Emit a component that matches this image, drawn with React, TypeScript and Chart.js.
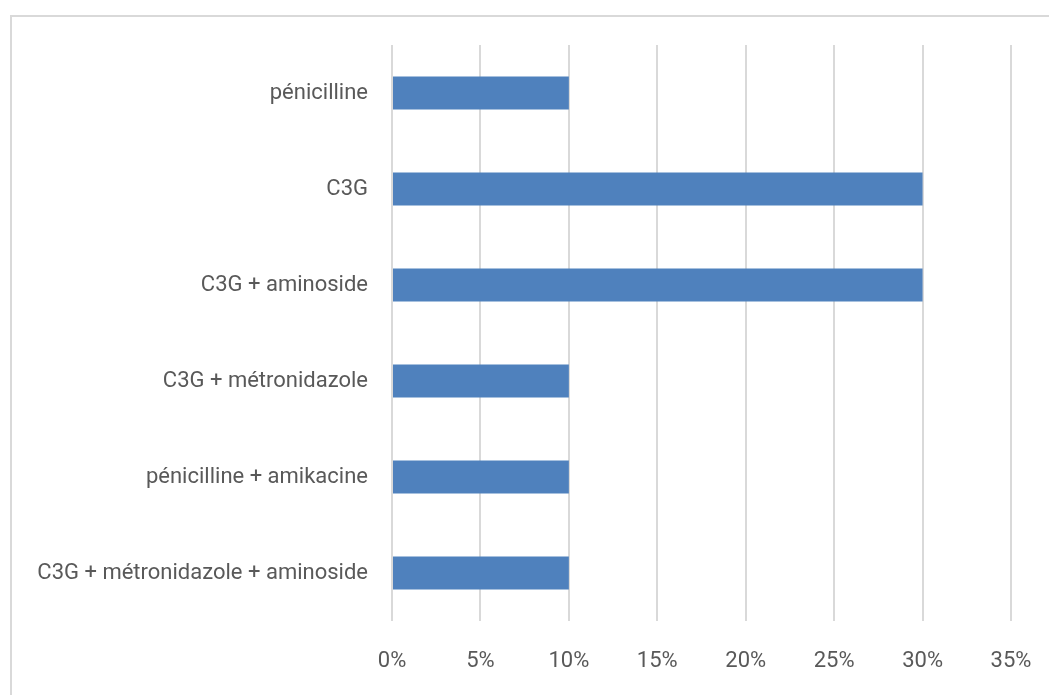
import React, { useEffect, useRef } from "react";
import { Chart, registerables } from "chart.js";

Chart.register(...registerables);

const categories = [
  "pénicilline",
  "C3G",
  "C3G + aminoside",
  "C3G + métronidazole",
  "pénicilline + amikacine",
  "C3G + métronidazole + aminoside",
];
const values = [10, 30, 30, 10, 10, 10];
const xTicks = [0, 5, 10, 15, 20, 25, 30, 35];

export default function App() {
  const ref = useRef<HTMLCanvasElement | null>(null);
  useEffect(() => {
    if (!ref.current) return;
    const font = { family: "Roboto, 'Liberation Sans', Arial, sans-serif", size: 22 };
    const chart = new Chart(ref.current, {
      type: "bar",
      data: {
        labels: categories,
        datasets: [
          {
            data: values,
            backgroundColor: "#4f81bd",
            borderWidth: 0,
            categoryPercentage: 1,
            barPercentage: 0.345,
          },
        ],
      },
      options: {
        indexAxis: "y",
        animation: false,
        responsive: false,
        maintainAspectRatio: false,
        layout: { padding: { top: 45, right: 38, left: 0, bottom: 0 } },
        plugins: { legend: { display: false }, tooltip: { enabled: false } },
        scales: {
          x: {
            min: 0,
            max: 35,
            afterBuildTicks: (s: any) => {
              s.ticks = xTicks.map((v) => ({ value: v }));
            },
            afterFit: (s: any) => {
              s.height = 74;
              s.paddingLeft = 0;
              s.paddingRight = 0;
            },
            ticks: {
              callback: (v: any) => v + "%",
              color: "#595959",
              font,
              padding: 27,
            },
            grid: { color: "#d9d9d9", lineWidth: 2, drawTicks: false },
            border: { display: false },
          },
          y: {
            afterFit: (s: any) => {
              s.width = 392;
            },
            ticks: { color: "#595959", font, padding: 24 },
            grid: { display: false, drawTicks: false },
            border: { display: false },
          },
        },
      },
    });
    return () => chart.destroy();
  }, []);
  return (
    <div style={{ position: "fixed", left: 0, top: 0, width: 1049, height: 695, overflow: "hidden", background: "#fff" }}>
      <div
        style={{
          position: "absolute",
          left: 10,
          top: 15,
          width: 1200,
          height: 900,
          border: "2px solid #d9d9d9",
          boxSizing: "border-box",
        }}
      />
      <canvas ref={ref} width={1049} height={695} style={{ position: "absolute", left: 0, top: 0 }} />
    </div>
  );
}
